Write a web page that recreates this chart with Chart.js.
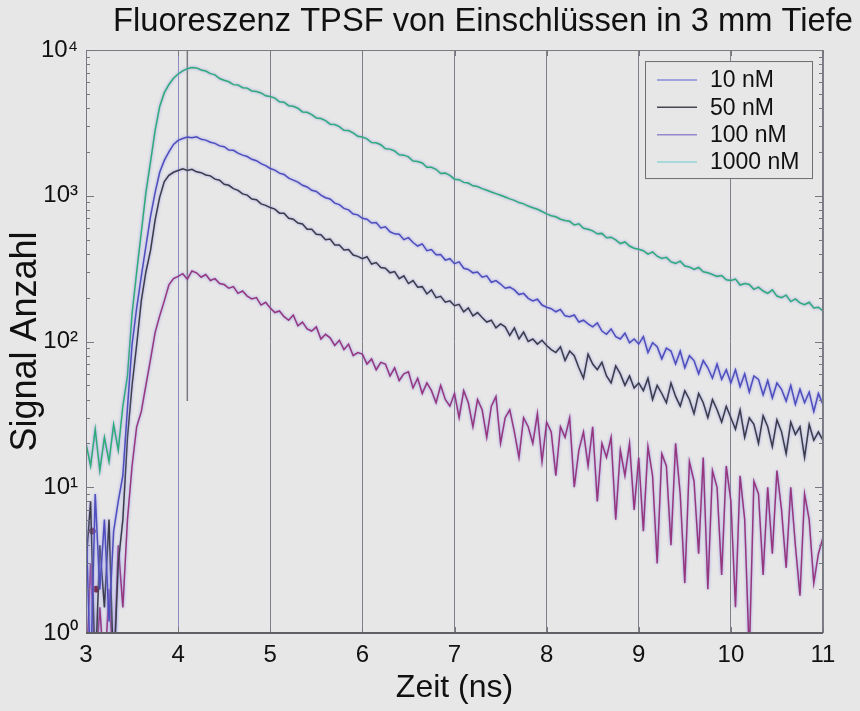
<!DOCTYPE html>
<html lang="de">
<head>
<meta charset="UTF-8">
<title>Fluoreszenz TPSF</title>
<script src="https://cdn.jsdelivr.net/npm/chart.js"></script>
<style>
  html, body { margin: 0; padding: 0; background: #e7e7e7; }
  #tpsf { display: block; }
</style>
</head>
<body>
<canvas id="tpsf" width="860" height="711"></canvas>
<script>
// Zeitachse (ns), 50 ps Kanäle
const times = [
  3, 3.05, 3.1, 3.15, 3.2, 3.25, 3.3, 3.35, 3.4, 3.45, 3.5, 3.55, 3.6, 3.65, 3.7, 3.75, 3.8, 3.85, 3.9, 3.95,
  4, 4.05, 4.1, 4.15, 4.2, 4.25, 4.3, 4.35, 4.4, 4.45, 4.5, 4.55, 4.6, 4.65, 4.7, 4.75, 4.8, 4.85, 4.9, 4.95,
  5, 5.05, 5.1, 5.15, 5.2, 5.25, 5.3, 5.35, 5.4, 5.45, 5.5, 5.55, 5.6, 5.65, 5.7, 5.75, 5.8, 5.85, 5.9, 5.95,
  6, 6.05, 6.1, 6.15, 6.2, 6.25, 6.3, 6.35, 6.4, 6.45, 6.5, 6.55, 6.6, 6.65, 6.7, 6.75, 6.8, 6.85, 6.9, 6.95,
  7, 7.05, 7.1, 7.15, 7.2, 7.25, 7.3, 7.35, 7.4, 7.45, 7.5, 7.55, 7.6, 7.65, 7.7, 7.75, 7.8, 7.85, 7.9, 7.95,
  8, 8.05, 8.1, 8.15, 8.2, 8.25, 8.3, 8.35, 8.4, 8.45, 8.5, 8.55, 8.6, 8.65, 8.7, 8.75, 8.8, 8.85, 8.9, 8.95,
  9, 9.05, 9.1, 9.15, 9.2, 9.25, 9.3, 9.35, 9.4, 9.45, 9.5, 9.55, 9.6, 9.65, 9.7, 9.75, 9.8, 9.85, 9.9, 9.95,
  10, 10.05, 10.1, 10.15, 10.2, 10.25, 10.3, 10.35, 10.4, 10.45, 10.5, 10.55, 10.6, 10.65, 10.7, 10.75, 10.8, 10.85, 10.9, 10.95,
  11
];

// Zählraten je Konzentration (Werte < 1 liegen unter der Achse)
const signal10nM = [
  6, 0.5, 9, 2, 6, 1.2, 5, 8, 12, 35, 95, 170, 280, 450, 720, 1050, 1450, 1750, 2000, 2250,
  2400, 2470, 2530, 2500, 2540, 2440, 2410, 2330, 2290, 2200, 2170, 2060, 2050, 1960, 1900, 1860, 1780, 1740, 1660, 1610,
  1540, 1500, 1430, 1400, 1320, 1280, 1240, 1180, 1150, 1090, 1070, 1010, 970, 950, 890, 870, 820, 800, 750, 740,
  700, 690, 650, 656, 602, 612, 566, 548, 545, 500, 516, 478, 452, 468, 420, 428, 394, 396, 362, 370,
  342, 352, 318, 312, 296, 300, 276, 282, 255, 262, 248, 232, 236, 226, 210, 214, 198, 190, 195, 178,
  172, 168, 160, 166, 150, 148, 152, 136, 140, 132, 126, 134, 118, 112, 122, 108, 104, 114, 98, 104,
  96, 108, 84, 98, 92, 76, 90, 86, 70, 86, 66, 80, 74, 60, 74, 66, 56, 70, 55, 64,
  52, 64, 49, 60, 45, 58, 55, 43, 54, 41, 52, 47, 39, 50, 37, 47, 38, 45, 33, 44,
  37
];
const signal50nM = [
  3, 8, 0.5, 4, 1.5, 6, 0.5, 3, 6, 22, 50, 95, 190, 300, 420, 680, 980, 1250, 1380, 1450,
  1490, 1530, 1490, 1520, 1460, 1440, 1390, 1370, 1300, 1280, 1200, 1180, 1120, 1090, 1030, 1010, 950, 940, 880, 860,
  830, 810, 760, 760, 700, 690, 650, 640, 590, 590, 545, 540, 500, 505, 460, 460, 425, 428, 392, 384,
  370, 382, 340, 348, 322, 318, 296, 302, 270, 282, 250, 262, 236, 238, 212, 226, 200, 204, 186, 190,
  176, 180, 160, 170, 150, 158, 146, 136, 140, 124, 132, 126, 110, 124, 104, 116, 100, 104, 96, 102,
  94, 88, 84, 92, 74, 86, 80, 66, 56, 82, 70, 64, 72, 58, 52, 68, 60, 50, 58, 48,
  52, 46, 56, 40, 50, 44, 38, 52, 42, 36, 46, 40, 32, 44, 38, 30, 40, 34, 28, 36,
  30, 25, 34, 22, 30, 27, 20, 31, 26, 19, 29, 24, 17, 28, 23, 26, 16, 27, 21, 24,
  21
];
const signal100nM = [
  0.5, 3, 0.5, 1.5, 0.5, 2, 0.5, 4, 1.5, 6, 14, 26, 33, 50, 75, 115, 150, 190, 245, 270,
  280, 292, 268, 305, 296, 276, 288, 262, 270, 250, 246, 232, 238, 214, 222, 205, 196, 200, 178, 186,
  170, 158, 162, 148, 140, 152, 128, 136, 122, 118, 126, 104, 112, 106, 94, 102, 88, 96, 80, 84,
  82, 70, 76, 64, 72, 70, 58, 66, 54, 60, 62, 48, 56, 44, 52, 46, 38, 50, 40, 36,
  44, 30, 46, 38, 26, 40, 34, 22, 36, 42, 20, 30, 34, 24, 16, 30, 26, 20, 32, 15,
  28, 24, 12, 26, 22, 30, 10, 18, 24, 14, 26, 8, 20, 16, 22, 6, 18, 12, 20, 7,
  16, 5, 19, 12, 3, 17, 14, 4, 20, 9, 2.2, 15, 11, 3.5, 16, 2, 13, 10, 2.5, 14,
  8, 1.5, 12, 6, 0.7, 11, 9, 2.5, 10, 3.5, 13, 7, 2.8, 10, 4, 1.8, 9, 6, 2.2, 3.5,
  4.5
];
const signal1000nM = [
  20, 14, 25, 13, 22, 15, 27, 18, 36, 58, 155, 300, 560, 1050, 1700, 2800, 4100, 5100, 5800, 6400,
  6850, 7200, 7450, 7600, 7540, 7300, 7180, 6890, 6760, 6380, 6200, 6060, 5790, 5760, 5510, 5480, 5240, 5190, 5080, 4850,
  4800, 4680, 4420, 4390, 4150, 4110, 3990, 3760, 3740, 3600, 3420, 3390, 3280, 3100, 3080, 2980, 2810, 2800, 2700, 2560,
  2530, 2460, 2320, 2310, 2240, 2100, 2090, 2030, 1910, 1900, 1850, 1730, 1720, 1680, 1570, 1570, 1520, 1420, 1430, 1380,
  1300, 1290, 1236, 1222, 1170, 1158, 1120, 1090, 1062, 1034, 1008, 980, 952, 930, 898, 880, 850, 828, 808, 780,
  752, 730, 718, 690, 676, 668, 630, 642, 598, 590, 575, 548, 552, 515, 520, 498, 470, 482, 452, 437,
  430, 420, 398, 412, 385, 372, 378, 352, 344, 356, 330, 325, 312, 322, 301, 296, 288, 280, 284, 265,
  262, 268, 244, 250, 246, 228, 236, 222, 214, 226, 205, 200, 208, 188, 196, 184, 179, 186, 170, 172,
  162
];

const seriesLabels = ['10 nM', '50 nM', '100 nM', '1000 nM'];
const xTicks = [3, 4, 5, 6, 7, 8, 9, 10, 11];
const yTickValues = [1, 10, 100, 1000, 10000];
const yTickLabels = ['10\u2070', '10\u00b9', '10\u00b2', '10\u00b3', '10\u2074'];

// Trigger-Markierung und zwei Einzelereignisse am Anfang
const markerTime = 4.1;
const markerRange = [39, 10000];
const strayTimes = [3.07, 3.11];
const strayCounts = [5, 2];

const FONT = '"Liberation Sans", Arial, Helvetica, sans-serif';

// leichter Schein um die Messkurven
const glowPlugin = {
  id: 'glow',
  beforeDatasetDraw(chart, args) {
    const ds = chart.data.datasets[args.index];
    if (!ds.glow) return;
    chart.ctx.save();
    chart.ctx.shadowColor = ds.glow;
    chart.ctx.shadowBlur = 3;
  },
  afterDatasetDraw(chart, args) {
    if (chart.data.datasets[args.index].glow) chart.ctx.restore();
  }
};

// Rahmen mit nach innen zeigenden Teilstrichen
const framePlugin = {
  id: 'frame',
  afterDatasetsDraw(chart) {
    const { ctx, chartArea: a, scales: { x, y } } = chart;
    ctx.save();
    ctx.strokeStyle = 'rgb(120,120,128)';
    ctx.lineWidth = 1;
    ctx.beginPath();
    ctx.moveTo(a.left + 0.5, a.bottom);
    ctx.lineTo(a.left + 0.5, a.top + 0.5);
    ctx.lineTo(a.right - 0.5, a.top + 0.5);
    ctx.lineTo(a.right - 0.5, a.bottom);
    ctx.stroke();

    ctx.beginPath();
    for (let d = 0; d <= 4; d++) {
      for (let m = 1; m <= 9; m++) {
        if (d === 4 && m > 1) break;
        const py = Math.round(y.getPixelForValue(m * Math.pow(10, d))) + 0.5;
        const len = m === 1 ? 8 : 4;
        ctx.moveTo(a.left, py); ctx.lineTo(a.left + len, py);
        ctx.moveTo(a.right, py); ctx.lineTo(a.right - len, py);
      }
    }
    xTicks.forEach(v => {
      const px = Math.round(x.getPixelForValue(v)) + 0.5;
      ctx.moveTo(px, a.bottom); ctx.lineTo(px, a.bottom - 6);
      ctx.moveTo(px, a.top); ctx.lineTo(px, a.top + 6);
    });
    ctx.stroke();

    ctx.strokeStyle = 'rgb(95,95,100)';
    ctx.lineWidth = 2;
    ctx.beginPath();
    ctx.moveTo(a.left, a.bottom);
    ctx.lineTo(a.right, a.bottom);
    ctx.stroke();
    ctx.restore();
  }
};

// Legende oben rechts im Diagramm
const legendPlugin = {
  id: 'legendBox',
  afterDraw(chart) {
    const { ctx, chartArea: a } = chart;
    const items = chart.data.datasets.filter(ds => ds.legendColor);
    const w = 167, rowH = 27.3, h = 117;
    const left = a.right - 11 - w, top = a.top + 11;
    ctx.save();
    ctx.fillStyle = '#e7e7e7';
    ctx.fillRect(left, top, w, h);
    ctx.strokeStyle = 'rgb(110,110,115)';
    ctx.lineWidth = 1;
    ctx.strokeRect(left + 0.5, top + 0.5, w, h);
    ctx.font = '23px ' + FONT;
    ctx.textBaseline = 'middle';
    ctx.fillStyle = '#111';
    items.forEach((ds, i) => {
      const cy = top + 19 + i * rowH;
      ctx.strokeStyle = ds.legendColor;
      ctx.lineWidth = 1.5;
      ctx.beginPath();
      ctx.moveTo(left + 12, cy);
      ctx.lineTo(left + 52, cy);
      ctx.stroke();
      ctx.fillText(ds.label, left + 65, cy + 1);
    });
    ctx.restore();
  }
};

function curve(label, values, color, legendColor) {
  return {
    label, data: values, borderColor: color, legendColor,
    glow: 'rgba(150,150,235,1)',
    borderWidth: 1.5, pointRadius: 0, tension: 0
  };
}

new Chart(document.getElementById('tpsf'), {
  type: 'line',
  data: {
    labels: times,
    datasets: [
      curve(seriesLabels[0], signal10nM, 'rgb(78,78,188)', 'rgb(140,140,215)'),
      curve(seriesLabels[1], signal50nM, 'rgb(60,60,70)', 'rgb(70,70,80)'),
      curve(seriesLabels[2], signal100nM, 'rgb(150,55,125)', 'rgb(150,135,205)'),
      curve(seriesLabels[3], signal1000nM, 'rgb(45,172,118)', 'rgb(145,212,212)'),
      {
        data: [{ x: markerTime, y: markerRange[1] }, { x: markerTime, y: markerRange[0] }],
        borderColor: 'rgb(120,120,128)', borderWidth: 1.5, pointRadius: 0
      },
      {
        type: 'scatter',
        data: strayTimes.map((t, i) => ({ x: t, y: strayCounts[i] })),
        backgroundColor: 'rgb(115,10,30)', borderColor: 'rgb(115,10,30)',
        pointRadius: 3, showLine: false
      }
    ]
  },
  options: {
    responsive: false,
    animation: false,
    events: [],
    layout: { padding: { left: 0, right: 7, top: 0, bottom: 0 } },
    plugins: {
      legend: { display: false },
      tooltip: { enabled: false },
      title: {
        display: true,
        text: 'Fluoreszenz TPSF von Einschlüssen in 3 mm Tiefe',
        align: 'end',
        color: '#111',
        font: { family: FONT, size: 32.7, weight: 'normal' },
        padding: { top: 2, bottom: 8.8 }
      }
    },
    scales: {
      x: {
        type: 'linear', min: 3, max: 11,
        afterFit(scale) { scale.height = 78; },
        afterBuildTicks(scale) { scale.ticks = xTicks.map(v => ({ value: v })); },
        ticks: { color: '#111', padding: 8, font: { family: FONT, size: 24 } },
        grid: {
          drawTicks: false,
          color: c => (c.tick && c.tick.value === 4) ? 'rgb(140,140,195)' : 'rgb(128,128,138)',
          lineWidth: 1
        },
        border: { display: false },
        title: {
          display: true, text: 'Zeit (ns)', color: '#111',
          font: { family: FONT, size: 32 }, padding: { top: 0, bottom: 4 }
        }
      },
      y: {
        type: 'logarithmic', min: 1, max: 10000,
        afterFit(scale) { scale.width = 86; },
        ticks: {
          autoSkip: false, color: '#111', padding: 8,
          font: { family: FONT, size: 24 },
          callback: v => {
            const i = yTickValues.indexOf(Number(v));
            return i >= 0 ? yTickLabels[i] : '';
          }
        },
        grid: { display: false, drawTicks: false },
        border: { display: false },
        title: {
          display: true, text: 'Signal Anzahl', color: '#111',
          font: { family: FONT, size: 36 }, padding: { top: 4, bottom: 0 }
        }
      },
      yRight: {
        type: 'linear', position: 'right', min: 0, max: 1,
        afterFit(scale) { scale.width = 30; },
        ticks: { display: false },
        grid: { display: false, drawTicks: false },
        border: { display: false }
      }
    }
  },
  plugins: [glowPlugin, framePlugin, legendPlugin]
});
</script>
</body>
</html>
